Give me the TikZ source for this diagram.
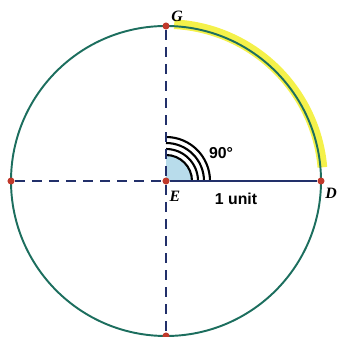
\documentclass[tikz,border=0pt]{standalone}
\usepackage{fontspec}
\newfontfamily\arialfont{Liberation Sans}
\newfontfamily\timesfont{Liberation Serif}
\usetikzlibrary{positioning}
\definecolor{rimgreen}{HTML}{1C6E5E}
\definecolor{guideblue}{HTML}{22306A}
\definecolor{hilite}{HTML}{F2EE2A}
\definecolor{dotred}{HTML}{C0392B}
\definecolor{sectorblue}{HTML}{B8DCEB}

\begin{document}
\begin{tikzpicture}[
    x=0.02cm, y=0.02cm,
    rim/.style={draw=rimgreen, line width=1.1pt},
    guide/.style={draw=guideblue, line width=1.1pt, dash pattern=on 5.7pt off 4pt},
    unitline/.style={draw=guideblue, line width=1.1pt},
    dot/.style={circle, fill=dotred, inner sep=0pt, minimum size=4pt},
    lbl/.style={font=\timesfont\bfseries\itshape\small, inner sep=0pt},
    txt/.style={font=\arialfont\bfseries\small, inner sep=0pt}
]
\useasboundingbox (0,0) rectangle (341,337);

% highlighted quarter and circle
\draw[hilite, line width=5.5pt, opacity=0.85] (166,156) ++(87:157) arc[start angle=87, end angle=5, radius=157];
\draw[rim] (166,156) circle[radius=155];

% right angle marks
\fill[sectorblue] (166,156) -- ++(0:26) arc[start angle=0, end angle=90, radius=26] -- cycle;
\foreach \r in {26,32,38,44}
    \draw[line width=1.2pt] (166,156) ++(0:\r) arc[start angle=0, end angle=90, radius=\r];

\node[dot] (E) at (166,156) {};
\node[dot] (D) at (321,156) {};
\node[dot] (G) at (166,311) {};
\node[dot] (L) at (11,156)  {};
\node[dot] (B) at (166,1)   {};

\draw[guide] (L) -- (E);
\draw[guide] (G) -- (E);
\draw[guide] (E) -- (B);
\draw[unitline] (E) -- (D);

\node[lbl] (Elbl) at (175,141) {E};
\node[lbl] (Dlbl) at (331,144) {D};
\node[lbl] (Glbl) at (177,321) {G};
\node[txt] (ang)  at (221,184) {90°};
\node[txt] (unit) at (236,138) {1 unit};
\end{tikzpicture}
\end{document}
